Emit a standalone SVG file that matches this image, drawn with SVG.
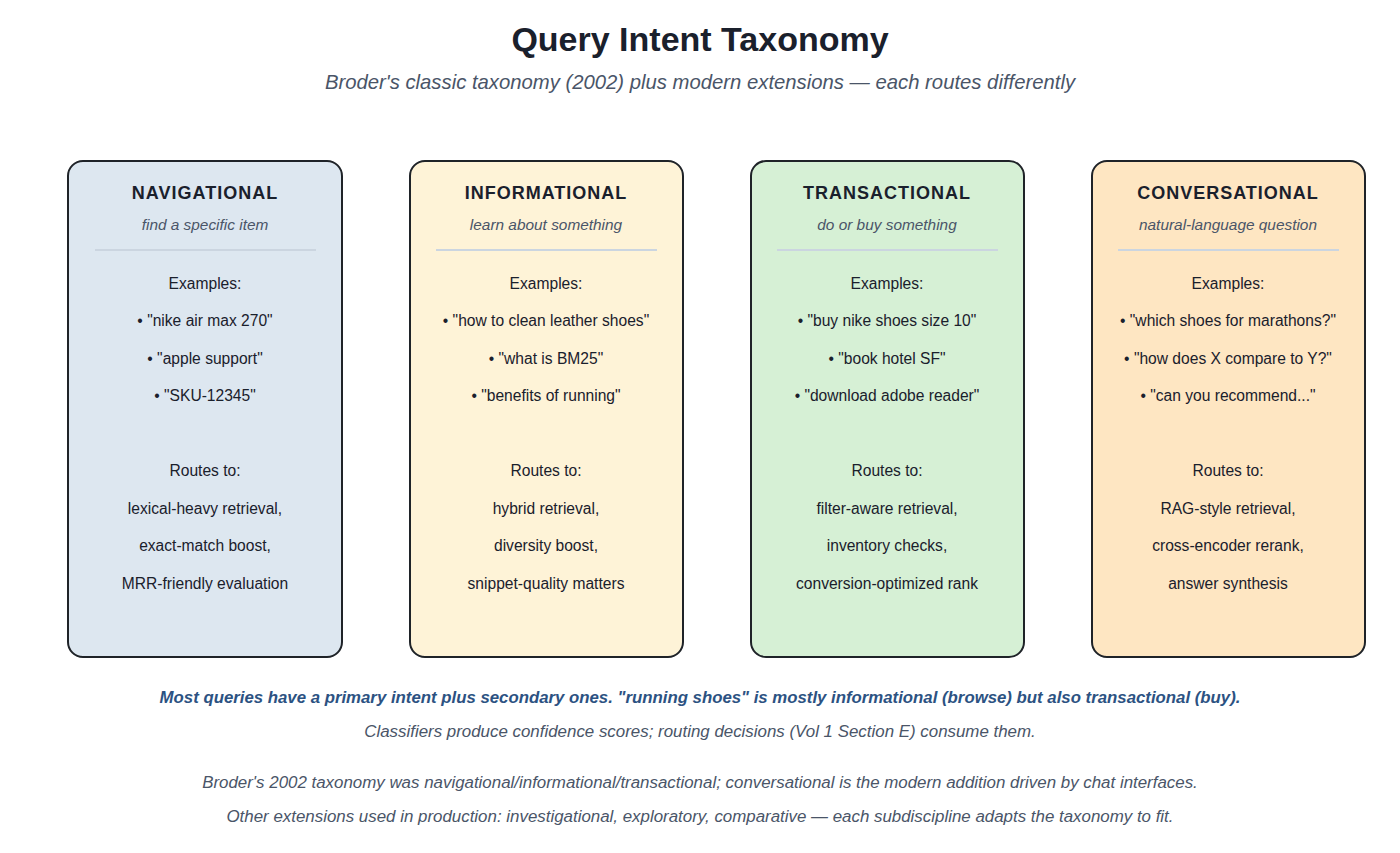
<svg xmlns="http://www.w3.org/2000/svg" width="1400" height="853" viewBox="0 0 1400 853">
<style>
text{font-family:"Liberation Sans",Arial,sans-serif;text-anchor:middle}
.title{font-size:34px;font-weight:bold;fill:#1a202c}
.sub{font-size:20.3px;font-style:italic;fill:#4a5568}
.card{stroke:#1f2328;stroke-width:2}
.ct{font-size:18px;font-weight:bold;fill:#1a202c;letter-spacing:1px}
.cs{font-size:15.4px;font-style:italic;fill:#4a5568}
.div{stroke:#cbd5e0;stroke-width:2}
.tx{font-size:15.6px;fill:#1a202c}
.note{font-size:16.8px;font-style:italic;font-weight:bold;fill:#2c5282}
.foot{font-size:16.9px;font-style:italic;fill:#4a5568}
</style>
<rect width="1400" height="853" fill="#ffffff"/>
<text class="title" x="700" y="51">Query Intent Taxonomy</text>
<text class="sub" x="700" y="89">Broder's classic taxonomy (2002) plus modern extensions — each routes differently</text>

<g id="navigational">
<rect class="card" x="68" y="161" width="274" height="496" rx="15" fill="#dde7f0"/>
<text class="ct" x="205" y="199">NAVIGATIONAL</text>
<text class="cs" x="205" y="230">find a specific item</text>
<line class="div" x1="95" y1="250" x2="316" y2="250"/>
<text class="tx" x="205" y="289">Examples:</text>
<text class="tx" x="205" y="326">• "nike air max 270"</text>
<text class="tx" x="205" y="364">• "apple support"</text>
<text class="tx" x="205" y="401">• "SKU-12345"</text>
<text class="tx" x="205" y="476">Routes to:</text>
<text class="tx" x="205" y="514">lexical-heavy retrieval,</text>
<text class="tx" x="205" y="551">exact-match boost,</text>
<text class="tx" x="205" y="589">MRR-friendly evaluation</text>
</g>

<g id="informational">
<rect class="card" x="410" y="161" width="273" height="496" rx="15" fill="#fef3d7"/>
<text class="ct" x="546" y="199">INFORMATIONAL</text>
<text class="cs" x="546" y="230">learn about something</text>
<line class="div" x1="436" y1="250" x2="657" y2="250"/>
<text class="tx" x="546" y="289">Examples:</text>
<text class="tx" x="546" y="326">• "how to clean leather shoes"</text>
<text class="tx" x="546" y="364">• "what is BM25"</text>
<text class="tx" x="546" y="401">• "benefits of running"</text>
<text class="tx" x="546" y="476">Routes to:</text>
<text class="tx" x="546" y="514">hybrid retrieval,</text>
<text class="tx" x="546" y="551">diversity boost,</text>
<text class="tx" x="546" y="589">snippet-quality matters</text>
</g>

<g id="transactional">
<rect class="card" x="751" y="161" width="273" height="496" rx="15" fill="#d6f0d5"/>
<text class="ct" x="887" y="199">TRANSACTIONAL</text>
<text class="cs" x="887" y="230">do or buy something</text>
<line class="div" x1="777" y1="250" x2="998" y2="250"/>
<text class="tx" x="887" y="289">Examples:</text>
<text class="tx" x="887" y="326">• "buy nike shoes size 10"</text>
<text class="tx" x="887" y="364">• "book hotel SF"</text>
<text class="tx" x="887" y="401">• "download adobe reader"</text>
<text class="tx" x="887" y="476">Routes to:</text>
<text class="tx" x="887" y="514">filter-aware retrieval,</text>
<text class="tx" x="887" y="551">inventory checks,</text>
<text class="tx" x="887" y="589">conversion-optimized rank</text>
</g>

<g id="conversational">
<rect class="card" x="1092" y="161" width="273" height="496" rx="15" fill="#fee6c2"/>
<text class="ct" x="1228" y="199">CONVERSATIONAL</text>
<text class="cs" x="1228" y="230">natural-language question</text>
<line class="div" x1="1118" y1="250" x2="1339" y2="250"/>
<text class="tx" x="1228" y="289">Examples:</text>
<text class="tx" x="1228" y="326">• "which shoes for marathons?"</text>
<text class="tx" x="1228" y="364">• "how does X compare to Y?"</text>
<text class="tx" x="1228" y="401">• "can you recommend..."</text>
<text class="tx" x="1228" y="476">Routes to:</text>
<text class="tx" x="1228" y="514">RAG-style retrieval,</text>
<text class="tx" x="1228" y="551">cross-encoder rerank,</text>
<text class="tx" x="1228" y="589">answer synthesis</text>
</g>

<g id="connectors"></g>

<text class="note" x="700" y="703">Most queries have a primary intent plus secondary ones. "running shoes" is mostly informational (browse) but also transactional (buy).</text>
<text class="foot" x="700" y="737">Classifiers produce confidence scores; routing decisions (Vol 1 Section E) consume them.</text>
<text class="foot" x="700" y="788">Broder's 2002 taxonomy was navigational/informational/transactional; conversational is the modern addition driven by chat interfaces.</text>
<text class="foot" x="700" y="822">Other extensions used in production: investigational, exploratory, comparative — each subdiscipline adapts the taxonomy to fit.</text>
</svg>
